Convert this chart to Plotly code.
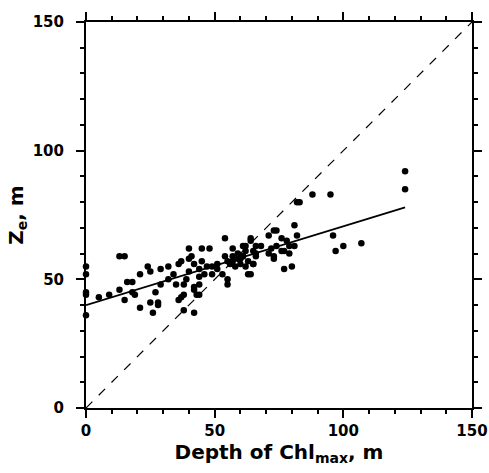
import plotly.graph_objects as go

# Scatter data: depth of Chl max (m) vs Ze (m)
depth = [0, 0, 0, 0, 0, 5, 9, 13, 15, 13, 15, 16, 18, 18, 19, 21, 21, 24, 25, 25, 26, 27, 28, 28,
         29, 29, 32, 32, 34, 35, 36, 36, 37, 37, 38, 38, 38, 39, 40, 40, 41, 42, 40, 42, 42, 42,
         43, 44, 44, 45, 48, 45, 44, 44, 46, 47, 49, 49, 51, 51, 53, 54, 55, 55, 54, 55, 56, 57,
         57, 57, 58, 59, 59, 60, 61, 61, 62, 62, 63, 64, 64, 65, 65, 66,
         124, 124, 88, 95, 82, 83, 81, 82, 96, 97, 100, 107, 81, 79, 80, 77, 63, 65, 73, 74, 71,
         64, 76, 78, 68, 72, 74, 76, 71, 73, 73, 77, 79, 66, 62, 60, 66, 61]
ze = [55, 52, 45, 44, 36, 43, 44, 59, 59, 46, 42, 49, 49, 45, 44, 39, 52, 55, 53, 41, 37, 45, 41, 40,
      54, 48, 50, 55, 52, 48, 56, 42, 43, 57, 44, 38, 48, 50, 62, 58, 59, 56, 53, 47, 46, 37,
      44, 51, 54, 62, 62, 57, 48, 44, 52, 55, 52, 55, 54, 56, 52, 66, 50, 48, 59, 57, 56, 62,
      59, 57, 55, 60, 58, 56, 63, 59, 55, 63, 57, 52, 65, 61, 56, 59,
      92, 85, 83, 83, 80, 80, 71, 67, 67, 61, 63, 64, 63, 60, 55, 54, 52, 56, 69, 69, 67,
      66, 66, 65, 63, 62, 63, 61, 60, 59, 58, 61, 63, 60, 61, 58, 63, 59]

# Regression line endpoints
fit_x = [0, 124]
fit_y = [40, 78]

# 1:1 line
one_x = [0, 150]
one_y = [0, 150]

tick_vals = [0, 50, 100, 150]
tick_text = ["0", "50", "100", "150"]

fig = go.Figure()
fig.add_trace(go.Scatter(x=one_x, y=one_y, mode="lines",
                         line=dict(color="black", width=1.2, dash="dash"),
                         showlegend=False, hoverinfo="skip"))
fig.add_trace(go.Scatter(x=fit_x, y=fit_y, mode="lines",
                         line=dict(color="black", width=1.8),
                         showlegend=False, hoverinfo="skip"))
fig.add_trace(go.Scatter(x=depth, y=ze, mode="markers",
                         marker=dict(color="black", size=6.5),
                         showlegend=False, cliponaxis=False))

axis_common = dict(
    range=[0, 150], tickvals=tick_vals, ticktext=tick_text,
    showgrid=False, zeroline=False, automargin=False,
    ticklabeloverflow="allow",
    showline=True, linecolor="black", linewidth=2, mirror="ticks",
    ticks="outside", ticklen=8, tickwidth=2, tickcolor="black",
    minor=dict(dtick=10, ticks="outside", ticklen=4, tickwidth=1.5, tickcolor="black"),
    tickfont=dict(family="DejaVu Sans", size=15, color="black", weight="bold"),
)

title_font = dict(family="DejaVu Sans", size=20, color="black", weight="bold")

fig.update_layout(
    width=489, height=473,
    margin=dict(l=86, r=17, t=22, b=65),
    plot_bgcolor="white", paper_bgcolor="white",
    xaxis=dict(**axis_common,
               title=dict(text="Depth of Chl<sub>max</sub>, m", standoff=0, font=title_font)),
    yaxis=dict(**axis_common, ticklabelstandoff=9,
               title=dict(text="Z<sub>e</sub>, m", standoff=4, font=title_font)),
)

# Remove the default page margin/scrollbars so the figure fills the window exactly
fig.write_html(
    "out.html",
    config={"displayModeBar": False},
    post_script="document.body.style.margin='0';"
                "document.documentElement.style.overflow='hidden';"
                "document.body.style.overflow='hidden';",
)
